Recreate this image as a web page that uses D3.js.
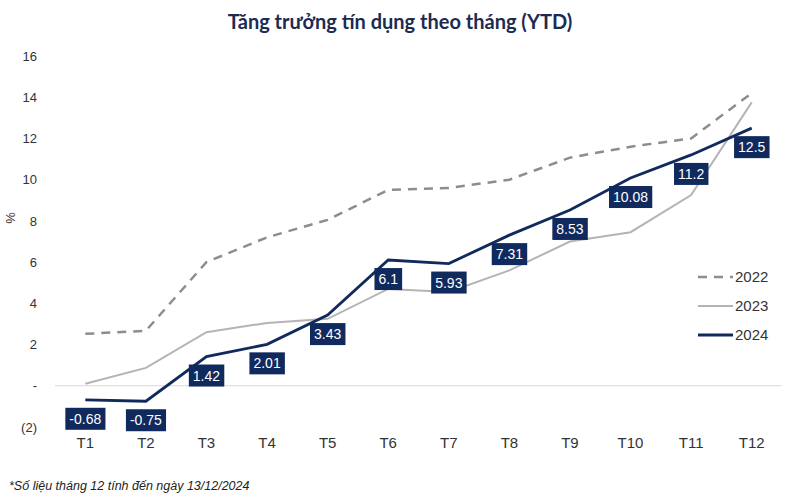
<!DOCTYPE html>
<html lang="vi">
<head>
<meta charset="utf-8">
<style>
  body { margin: 0; background: #fff; }
  svg { display: block; font-family: "Liberation Sans", Arial, sans-serif; }
</style>
</head>
<body>
<div id="chart"></div>
<script src="https://cdn.jsdelivr.net/npm/d3@7"></script>
<script>
var months = ["T1", "T2", "T3", "T4", "T5", "T6", "T7", "T8", "T9", "T10", "T11", "T12"];
var y2022 = [2.52, 2.67, 6.0, 7.2, 8.05, 9.5, 9.6, 10.0, 11.07, 11.6, 12.0, 14.2];
var y2023 = [0.1, 0.87, 2.6, 3.05, 3.25, 4.7, 4.55, 5.6, 7.0, 7.45, 9.25, 13.75];
var y2024 = [-0.68, -0.75, 1.42, 2.01, 3.43, 6.1, 5.93, 7.31, 8.53, 10.08, 11.2, 12.5];
var yTicks = [-2, 0, 2, 4, 6, 8, 10, 12, 14, 16];

var W = 800, H = 497;
var navy = "#112a5e";

var svg = d3.select("#chart").append("svg")
    .attr("width", W).attr("height", H);

var x = d3.scaleBand().domain(months).range([55, 782]);
var y = d3.scaleLinear().domain([-2, 16]).range([427, 56]);
var cx = function(m) { return x(m) + x.bandwidth() / 2; };

// title
svg.append("text")
    .attr("x", 400).attr("y", 29)
    .attr("text-anchor", "middle")
    .style("font-family", "Lato, sans-serif")
    .style("font-weight", "bold")
    .style("font-size", "20px")
    .attr("fill", "#1b2b52")
    .text("Tăng trưởng tín dụng theo tháng (YTD)");

// zero line
svg.append("line")
    .attr("x1", 55).attr("x2", 782)
    .attr("y1", y(0)).attr("y2", y(0))
    .attr("stroke", "#d9d9d9").attr("stroke-width", 1);

// y axis (labels only)
var yAxis = d3.axisLeft(y).tickValues(yTicks).tickSize(0).tickPadding(0)
    .tickFormat(function(d) { return d === 0 ? "-" : d < 0 ? "(" + (-d) + ")" : d; });
var gy = svg.append("g").attr("transform", "translate(37,0)").call(yAxis);
gy.select(".domain").remove();
gy.selectAll("text").attr("fill", "#333").style("font-size", "13px")
    .style("font-family", "Liberation Sans, Arial, sans-serif");

svg.append("text")
    .attr("transform", "translate(15,218) rotate(-90)")
    .attr("text-anchor", "middle")
    .attr("fill", "#333").style("font-size", "13px")
    .text("%");

// x axis (labels only)
var xAxis = d3.axisBottom(x).tickSize(0).tickPadding(0);
var gx = svg.append("g").attr("transform", "translate(0,437)").call(xAxis);
gx.select(".domain").remove();
gx.selectAll("text").attr("fill", "#333").style("font-size", "15px")
    .style("font-family", "Liberation Sans, Arial, sans-serif");

var line = d3.line()
    .x(function(d, i) { return cx(months[i]); })
    .y(function(d) { return y(d); });

svg.append("path").datum(y2022)
    .attr("d", line).attr("fill", "none")
    .attr("stroke", "#8d8d8d").attr("stroke-width", 2.5)
    .attr("stroke-dasharray", "9,7");

svg.append("path").datum(y2023)
    .attr("d", line).attr("fill", "none")
    .attr("stroke", "#b4b4b4").attr("stroke-width", 2);

svg.append("path").datum(y2024)
    .attr("d", line).attr("fill", "none")
    .attr("stroke", navy).attr("stroke-width", 2.8);

// data labels for 2024
var lab = svg.append("g").selectAll("g")
    .data(y2024).enter().append("g")
    .attr("transform", function(d, i) { return "translate(" + cx(months[i]) + "," + (y(d) + 19) + ")"; });

lab.append("text")
    .attr("text-anchor", "middle")
    .attr("dy", "0.36em")
    .attr("fill", "#fff")
    .style("font-size", "14px")
    .text(function(d) { return d; });

lab.each(function() {
    var g = d3.select(this);
    var b = g.select("text").node().getBBox();
    g.insert("rect", "text")
        .attr("x", b.x - 4).attr("y", -11)
        .attr("width", b.width + 8).attr("height", 22)
        .attr("fill", navy);
});

// legend
var legend = [
    { name: "2022", color: "#8d8d8d", width: 2.5, dash: "9,7" },
    { name: "2023", color: "#b4b4b4", width: 2, dash: null },
    { name: "2024", color: navy, width: 2.8, dash: null }
];
var lg = svg.append("g").selectAll("g")
    .data(legend).enter().append("g")
    .attr("transform", function(d, i) { return "translate(698," + (277 + i * 29) + ")"; });
lg.append("line")
    .attr("x1", 0).attr("x2", 35)
    .attr("stroke", function(d) { return d.color; })
    .attr("stroke-width", function(d) { return d.width; })
    .attr("stroke-dasharray", function(d) { return d.dash; });
lg.append("text")
    .attr("x", 37).attr("dy", "0.36em")
    .attr("fill", "#333").style("font-size", "15px")
    .text(function(d) { return d.name; });

// footnote
svg.append("text")
    .attr("x", 9).attr("y", 490)
    .attr("fill", "#222")
    .style("font-style", "italic")
    .style("font-size", "12.5px")
    .text("*Số liệu tháng 12 tính đến ngày 13/12/2024");
</script>
</body>
</html>
